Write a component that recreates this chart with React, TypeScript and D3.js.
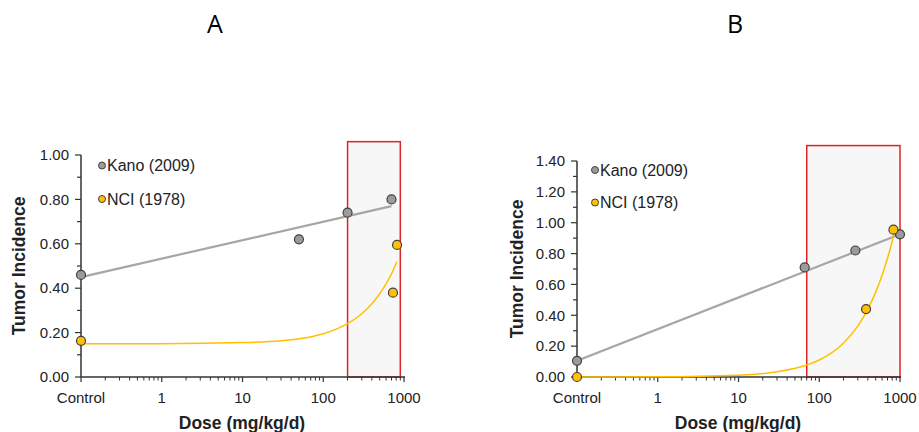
import React from "react";
import * as d3 from "d3";

// ---------- data ----------
const panelTitles = ["A", "B"];
const legendLabels = ["Kano (2009)", "NCI (1978)"];
const xTickLabels = ["Control", "1", "10", "100", "1000"];
const xTickValues = [0.1, 1, 10, 100, 1000];

// Panel A
const kanoDoseA = [0.1, 50, 200, 700];
const kanoIncA = [0.46, 0.62, 0.74, 0.8];
const nciDoseA = [0.1, 730, 820];
const nciIncA = [0.163, 0.38, 0.595];
const kanoFitDoseA = [0.1, 700];
const kanoFitIncA = [0.45, 0.77];
const nciFitDoseA = [0.1, 1, 10, 30, 50, 100, 150, 200, 300, 400, 500, 600, 700, 820];
const nciFitIncA = [0.15, 0.15, 0.155, 0.163, 0.172, 0.195, 0.218, 0.24, 0.285, 0.33, 0.375, 0.42, 0.465, 0.52];
const boxDoseA = [200, 900];
const boxIncA = [0, 1.06];
const yTicksA = [0, 0.2, 0.4, 0.6, 0.8, 1.0];

// Panel B
const kanoDoseB = [0.1, 66, 280, 1000];
const kanoIncB = [0.105, 0.71, 0.82, 0.925];
const nciDoseB = [0.1, 380, 830];
const nciIncB = [0.0, 0.44, 0.955];
const kanoFitDoseB = [0.1, 1000];
const kanoFitIncB = [0.105, 0.925];
const nciFitDoseB = [0.1, 1, 10, 30, 70, 100, 200, 300, 400, 500, 600, 700, 800, 850];
const nciFitIncB = [0, 0.001, 0.011, 0.034, 0.078, 0.11, 0.22, 0.33, 0.44, 0.55, 0.66, 0.77, 0.88, 0.95];
const boxDoseB = [70, 1000];
const boxIncB = [0, 1.5];
const yTicksB = [0, 0.2, 0.4, 0.6, 0.8, 1.0, 1.2, 1.4];

const GRAY_FILL = "#9b9b9b";
const GRAY_LINE = "#a6a6a6";
const YELLOW = "#ffc000";
const MARK_STROKE = "#404040";
const AXIS = "#333333";
const FONT = "'Liberation Sans', Arial, sans-serif";

type PanelProps = {
  title: string;
  titleX: number;
  x0: number; x1: number; yTop: number; yBottom: number; yMax: number;
  yTicks: number[];
  kanoDose: number[]; kanoInc: number[];
  nciDose: number[]; nciInc: number[];
  kanoFitDose: number[]; kanoFitInc: number[];
  nciFitDose: number[]; nciFitInc: number[];
  boxDose: number[]; boxInc: number[];
  ylabelX: number; xlabelX: number;
  legendX: number; legendY: number[];
};

function Panel(p: PanelProps) {
  const x = d3.scaleLog().domain([0.1, 1000]).range([p.x0, p.x1]);
  const y = d3.scaleLinear().domain([0, p.yMax]).range([p.yBottom, p.yTop]);
  const line = d3.line<[number, number]>().x((d) => x(d[0])).y((d) => y(d[1])).curve(d3.curveMonotoneX);
  const kanoFit = line(p.kanoFitDose.map((d, i) => [d, p.kanoFitInc[i]] as [number, number])) || "";
  const nciFit = line(p.nciFitDose.map((d, i) => [d, p.nciFitInc[i]] as [number, number])) || "";

  const minorX: number[] = [];
  [0.1, 1, 10, 100].forEach((dec) => {
    for (let k = 2; k <= 9; k++) minorX.push(dec * k);
  });
  const minorY: number[] = [];
  for (let i = 0; i < p.yTicks.length - 1; i++) minorY.push((p.yTicks[i] + p.yTicks[i + 1]) / 2);

  const axisEnd = p.x1 + 1;

  return (
    <g>
      <text x={p.titleX} y={33} fontSize={25} fontFamily="'Open Sans', sans-serif" textAnchor="middle" fill="#000">
        {p.title}
      </text>
      {/* highlight box */}
      <rect
        x={x(p.boxDose[0])}
        y={y(p.boxInc[1])}
        width={x(p.boxDose[1]) - x(p.boxDose[0])}
        height={y(p.boxInc[0]) - y(p.boxInc[1])}
        fill="#f7f7f7"
        stroke="#e02424"
        strokeWidth={1.5}
      />
      {/* axes */}
      <line x1={p.x0} x2={p.x0} y1={p.yTop} y2={p.yBottom} stroke={AXIS} strokeWidth={1.5} />
      <line x1={p.x0} x2={axisEnd} y1={p.yBottom} y2={p.yBottom} stroke={AXIS} strokeWidth={1.5} />
      {p.yTicks.map((t) => (
        <g key={"yt" + t}>
          <line x1={p.x0 - 6} x2={p.x0} y1={y(t)} y2={y(t)} stroke={AXIS} strokeWidth={1.2} />
          <text x={p.x0 - 12} y={y(t)} dy="0.35em" fontSize={15} fontFamily={FONT} textAnchor="end" fill="#222">
            {t.toFixed(2)}
          </text>
        </g>
      ))}
      {minorY.map((t) => (
        <line key={"ym" + t} x1={p.x0 - 4} x2={p.x0} y1={y(t)} y2={y(t)} stroke={AXIS} strokeWidth={1.2} />
      ))}
      {xTickValues.map((t, i) => (
        <g key={"xt" + t}>
          <line x1={x(t)} x2={x(t)} y1={p.yBottom} y2={p.yBottom + 5} stroke={AXIS} strokeWidth={1.2} />
          <text x={x(t)} y={p.yBottom + 26} fontSize={15} fontFamily={FONT} textAnchor="middle" fill="#222">
            {xTickLabels[i]}
          </text>
        </g>
      ))}
      {minorX.map((t) => (
        <line key={"xm" + t} x1={x(t)} x2={x(t)} y1={p.yBottom} y2={p.yBottom + 3.5} stroke={AXIS} strokeWidth={1} />
      ))}
      {/* axis titles */}
      <text
        transform={`translate(${p.ylabelX},${(p.yTop + p.yBottom) / 2}) rotate(-90)`}
        dy="0.35em"
        fontSize={17.5}
        fontWeight="bold"
        fontFamily={FONT}
        textAnchor="middle"
        fill="#222"
      >
        Tumor Incidence
      </text>
      <text x={p.xlabelX} y={p.yBottom + 52} fontSize={17.5} fontWeight="bold" fontFamily={FONT} textAnchor="middle" fill="#222">
        Dose (mg/kg/d)
      </text>
      {/* fits */}
      <path d={kanoFit} fill="none" stroke={GRAY_LINE} strokeWidth={2.2} />
      <path d={nciFit} fill="none" stroke={YELLOW} strokeWidth={1.5} />
      {/* points */}
      {p.kanoDose.map((d, i) => (
        <circle key={"k" + i} cx={x(d)} cy={y(p.kanoInc[i])} r={4.5} fill={GRAY_FILL} stroke={MARK_STROKE} strokeWidth={1.2} />
      ))}
      {p.nciDose.map((d, i) => (
        <circle key={"n" + i} cx={x(d)} cy={y(p.nciInc[i])} r={4.5} fill={YELLOW} stroke={MARK_STROKE} strokeWidth={1.2} />
      ))}
      {/* legend */}
      {legendLabels.map((lab, i) => (
        <g key={"lg" + i}>
          <circle cx={p.legendX} cy={p.legendY[i]} r={3.5} fill={i === 0 ? GRAY_FILL : YELLOW} stroke={MARK_STROKE} strokeWidth={1} />
          <text x={p.legendX + 5} y={p.legendY[i]} dy="0.35em" fontSize={16} fontFamily={FONT} fill="#222">
            {lab}
          </text>
        </g>
      ))}
    </g>
  );
}

export default function App() {
  return (
    <svg width={919} height={432} style={{ display: "block", position: "absolute", left: 0, top: 0, background: "#fff" }}>
      <rect width={919} height={432} fill="#fff" />
      <Panel
        title={panelTitles[0]}
        titleX={215}
        x0={81} x1={404} yTop={155} yBottom={377} yMax={1.0}
        yTicks={yTicksA}
        kanoDose={kanoDoseA} kanoInc={kanoIncA}
        nciDose={nciDoseA} nciInc={nciIncA}
        kanoFitDose={kanoFitDoseA} kanoFitInc={kanoFitIncA}
        nciFitDose={nciFitDoseA} nciFitInc={nciFitIncA}
        boxDose={boxDoseA} boxInc={boxIncA}
        ylabelX={19} xlabelX={242}
        legendX={102} legendY={[165.5, 199]}
      />
      <Panel
        title={panelTitles[1]}
        titleX={735}
        x0={577} x1={900} yTop={161} yBottom={377} yMax={1.4}
        yTicks={yTicksB}
        kanoDose={kanoDoseB} kanoInc={kanoIncB}
        nciDose={nciDoseB} nciInc={nciIncB}
        kanoFitDose={kanoFitDoseB} kanoFitInc={kanoFitIncB}
        nciFitDose={nciFitDoseB} nciFitInc={nciFitIncB}
        boxDose={boxDoseB} boxInc={boxIncB}
        ylabelX={517} xlabelX={738}
        legendX={595} legendY={[170, 202.5]}
      />
    </svg>
  );
}
